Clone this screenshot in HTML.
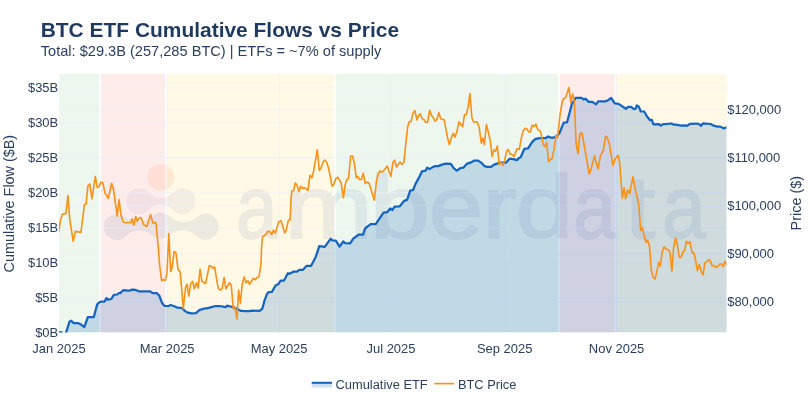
<!DOCTYPE html>
<html><head><meta charset="utf-8"><title>BTC ETF Cumulative Flows vs Price</title>
<style>
html,body{margin:0;padding:0;background:#fff;}
body{width:810px;height:405px;overflow:hidden;font-family:"Liberation Sans",sans-serif;}
svg{display:block;will-change:transform;transform:translateZ(0);}
text{font-family:"Liberation Sans",sans-serif;}
</style></head><body>
<svg width="810" height="405" viewBox="0 0 810 405">
<defs><clipPath id="pc"><rect x="59.0" y="74.0" width="667.7" height="258.5"/></clipPath></defs>
<rect width="810" height="405" fill="#ffffff"/>
<!-- regime bands -->
<g>
<rect x="59" y="74" width="40" height="258.5" fill="#edf7ee"/>
<rect x="100.9" y="74" width="64" height="258.5" fill="#feeceb"/>
<rect x="167" y="74" width="167.1" height="258.5" fill="#fff9e6"/>
<rect x="336" y="74" width="222" height="258.5" fill="#edf7ee"/>
<rect x="559.9" y="74" width="54.8" height="258.5" fill="#feeceb"/>
<rect x="616.4" y="74" width="110.3" height="258.5" fill="#fff9e6"/>
</g>
<!-- watermark -->
<g clip-path="url(#pc)">
<circle cx="160.7" cy="177.2" r="13.3" fill="#f4823c" opacity="0.12"/>
<path d="M126.00,201.20 A12.90,12.90 0 0 1 148.45,192.53 A16.67,16.67 0 0 0 173.15,192.53 A12.90,12.90 0 0 1 195.60,201.20 A12.90,12.90 0 0 1 173.15,209.87 A16.67,16.67 0 0 0 148.45,209.87 A12.90,12.90 0 0 1 126.00,201.20 Z" fill="#46609f" opacity="0.065"/>
<path d="M103.80,227.00 A12.90,12.90 0 0 1 125.24,217.33 A19.29,19.29 0 0 0 151.61,216.55 A12.90,12.90 0 0 1 169.58,216.34 A20.43,20.43 0 0 0 197.10,216.90 A12.90,12.90 0 0 1 218.50,226.60 A12.90,12.90 0 0 1 196.72,235.96 A20.43,20.43 0 0 0 169.20,235.40 A12.90,12.90 0 0 1 152.16,235.37 A19.29,19.29 0 0 0 125.79,236.15 A12.90,12.90 0 0 1 103.80,227.00 Z" fill="#46609f" opacity="0.10"/>
<g fill="#3c5696" stroke="#3c5696" opacity="0.09"><text transform="translate(236.18,237.8) scale(0.775,0.935)" font-size="95" stroke-width="2">a</text><text transform="translate(284.42,237.8) scale(1.116,0.935)" font-size="95" stroke-width="2">m</text><text transform="translate(369.80,237.8) scale(1.140,0.935)" font-size="95" stroke-width="2">b</text><text transform="translate(428.94,237.8) scale(1.021,0.935)" font-size="95" stroke-width="2">e</text><text transform="translate(482.45,237.8) scale(1.069,0.935)" font-size="95" stroke-width="2">r</text><text transform="translate(515.75,237.8) scale(1.084,0.935)" font-size="95" stroke-width="2">d</text><text transform="translate(573.18,237.8) scale(0.806,0.935)" font-size="95" stroke-width="2">a</text><text transform="translate(624.40,237.8) scale(1.156,0.935)" font-size="95" stroke-width="2">t</text><text transform="translate(661.91,237.8) scale(0.829,0.935)" font-size="95" stroke-width="2">a</text></g>
</g>
<!-- gridlines -->
<g stroke="#ebf0f8" stroke-width="1" stroke-opacity="0.7">
<line x1="167.2" x2="167.2" y1="74.0" y2="332.5"/><line x1="279.1" x2="279.1" y1="74.0" y2="332.5"/><line x1="391.0" x2="391.0" y1="74.0" y2="332.5"/><line x1="504.7" x2="504.7" y1="74.0" y2="332.5"/><line x1="616.6" x2="616.6" y1="74.0" y2="332.5"/>
<line x1="59.0" x2="726.7" y1="297.8" y2="297.8"/><line x1="59.0" x2="726.7" y1="262.8" y2="262.8"/><line x1="59.0" x2="726.7" y1="227.8" y2="227.8"/><line x1="59.0" x2="726.7" y1="192.8" y2="192.8"/><line x1="59.0" x2="726.7" y1="157.8" y2="157.8"/><line x1="59.0" x2="726.7" y1="122.8" y2="122.8"/><line x1="59.0" x2="726.7" y1="87.8" y2="87.8"/>
<line x1="59.0" x2="726.7" y1="109.6" y2="109.6"/><line x1="59.0" x2="726.7" y1="157.7" y2="157.7"/><line x1="59.0" x2="726.7" y1="205.8" y2="205.8"/><line x1="59.0" x2="726.7" y1="253.9" y2="253.9"/><line x1="59.0" x2="726.7" y1="302.0" y2="302.0"/>
</g>
<!-- traces -->
<g clip-path="url(#pc)">
<polygon points="59.0,332.0 61.7,332.3 62.5,336.0 65.5,336.0 66.1,332.6 69.5,321.5 71.3,320.7 73.5,323.0 78.0,323.0 80.9,324.4 84.3,327.1 87.9,317.0 93.8,317.0 97.2,304.4 99.4,302.2 101.2,301.5 104.6,301.5 106.4,298.1 108.0,299.6 111.3,299.0 113.8,294.8 117.2,294.5 119.0,293.0 120.5,293.0 122.9,290.4 124.6,290.1 126.9,290.7 129.8,290.7 132.0,289.6 135.7,289.9 138.7,291.3 149.8,291.3 152.8,293.1 156.9,293.2 159.2,295.5 162.2,303.3 164.4,305.8 168.6,306.0 170.5,305.0 173.7,306.0 177.4,307.7 181.9,308.0 184.8,310.9 187.8,312.7 191.5,313.4 195.9,313.1 199.6,309.9 201.9,309.4 204.1,308.4 207.0,308.4 212.2,306.8 215.9,306.0 219.6,306.0 225.6,307.2 227.0,305.7 230.7,306.5 235.2,308.0 238.1,309.4 241.1,310.9 244.8,311.2 249.3,311.2 252.2,310.6 259.6,310.9 262.3,308.7 264.5,300.6 267.0,293.9 268.5,292.2 271.9,292.0 275.6,285.4 278.5,283.9 280.7,280.6 284.0,280.6 287.9,273.2 289.6,273.8 293.3,271.7 297.0,271.7 299.3,269.8 303.0,269.8 306.7,265.8 311.1,265.8 315.6,257.2 319.3,246.1 324.7,246.9 330.6,238.8 332.5,240.4 335.8,240.6 339.6,246.6 343.2,241.5 345.3,243.1 350.1,243.4 353.5,238.3 354.8,237.5 358.6,234.7 363.1,234.6 365.0,228.5 368.7,225.6 370.6,224.1 375.7,224.1 379.8,218.1 383.5,212.7 387.2,212.2 390.2,208.5 392.4,210.0 394.6,206.7 399.8,206.3 403.8,201.1 407.2,199.6 410.2,190.7 413.1,190.0 415.4,184.1 419.1,177.4 422.0,171.3 425.7,170.6 427.2,167.6 429.4,169.1 433.1,166.9 435.4,166.1 438.3,166.1 442.0,164.6 445.7,163.6 450.9,163.9 453.9,168.3 456.9,170.6 460.6,168.0 463.5,167.6 467.2,163.6 471.7,162.1 473.9,160.6 478.3,160.6 481.4,162.8 484.4,166.1 487.4,166.9 491.1,166.9 494.1,164.6 497.0,163.6 499.3,162.7 505.9,162.7 509.6,158.7 513.3,159.1 517.0,160.2 518.8,158.0 520.7,157.2 524.4,148.8 528.1,148.3 531.9,142.4 534.8,139.4 537.8,138.4 542.2,138.0 545.9,138.0 548.1,136.5 550.4,137.5 554.1,137.5 557.0,135.7 559.3,133.5 563.7,122.6 567.0,122.4 569.0,115.0 571.9,103.9 575.7,97.9 581.7,97.8 583.5,99.5 585.4,98.7 588.8,101.8 592.4,101.8 596.0,104.4 598.4,101.3 605.2,101.4 608.1,100.2 611.1,98.0 614.8,103.4 618.5,103.9 625.9,108.8 628.1,106.9 631.1,106.9 633.9,109.1 635.6,108.7 636.8,105.4 638.8,106.7 640.7,111.3 644.2,111.5 647.0,116.5 650.0,120.2 651.8,119.9 653.5,124.3 658.9,124.2 660.7,125.7 662.6,124.3 671.5,123.5 673.7,124.7 675.9,124.7 681.1,125.7 684.8,125.4 687.0,125.8 690.0,123.9 697.4,123.6 699.6,124.6 701.1,125.8 702.9,123.4 710.7,124.0 713.7,125.7 717.4,126.6 720.4,126.6 722.6,127.9 724.1,128.3 726.6,127.3 726.7,332.5 59.0,332.5" fill="rgba(21,101,192,0.2)"/>
<polyline points="59.0,332.0 61.7,332.3 62.5,336.0 65.5,336.0 66.1,332.6 69.5,321.5 71.3,320.7 73.5,323.0 78.0,323.0 80.9,324.4 84.3,327.1 87.9,317.0 93.8,317.0 97.2,304.4 99.4,302.2 101.2,301.5 104.6,301.5 106.4,298.1 108.0,299.6 111.3,299.0 113.8,294.8 117.2,294.5 119.0,293.0 120.5,293.0 122.9,290.4 124.6,290.1 126.9,290.7 129.8,290.7 132.0,289.6 135.7,289.9 138.7,291.3 149.8,291.3 152.8,293.1 156.9,293.2 159.2,295.5 162.2,303.3 164.4,305.8 168.6,306.0 170.5,305.0 173.7,306.0 177.4,307.7 181.9,308.0 184.8,310.9 187.8,312.7 191.5,313.4 195.9,313.1 199.6,309.9 201.9,309.4 204.1,308.4 207.0,308.4 212.2,306.8 215.9,306.0 219.6,306.0 225.6,307.2 227.0,305.7 230.7,306.5 235.2,308.0 238.1,309.4 241.1,310.9 244.8,311.2 249.3,311.2 252.2,310.6 259.6,310.9 262.3,308.7 264.5,300.6 267.0,293.9 268.5,292.2 271.9,292.0 275.6,285.4 278.5,283.9 280.7,280.6 284.0,280.6 287.9,273.2 289.6,273.8 293.3,271.7 297.0,271.7 299.3,269.8 303.0,269.8 306.7,265.8 311.1,265.8 315.6,257.2 319.3,246.1 324.7,246.9 330.6,238.8 332.5,240.4 335.8,240.6 339.6,246.6 343.2,241.5 345.3,243.1 350.1,243.4 353.5,238.3 354.8,237.5 358.6,234.7 363.1,234.6 365.0,228.5 368.7,225.6 370.6,224.1 375.7,224.1 379.8,218.1 383.5,212.7 387.2,212.2 390.2,208.5 392.4,210.0 394.6,206.7 399.8,206.3 403.8,201.1 407.2,199.6 410.2,190.7 413.1,190.0 415.4,184.1 419.1,177.4 422.0,171.3 425.7,170.6 427.2,167.6 429.4,169.1 433.1,166.9 435.4,166.1 438.3,166.1 442.0,164.6 445.7,163.6 450.9,163.9 453.9,168.3 456.9,170.6 460.6,168.0 463.5,167.6 467.2,163.6 471.7,162.1 473.9,160.6 478.3,160.6 481.4,162.8 484.4,166.1 487.4,166.9 491.1,166.9 494.1,164.6 497.0,163.6 499.3,162.7 505.9,162.7 509.6,158.7 513.3,159.1 517.0,160.2 518.8,158.0 520.7,157.2 524.4,148.8 528.1,148.3 531.9,142.4 534.8,139.4 537.8,138.4 542.2,138.0 545.9,138.0 548.1,136.5 550.4,137.5 554.1,137.5 557.0,135.7 559.3,133.5 563.7,122.6 567.0,122.4 569.0,115.0 571.9,103.9 575.7,97.9 581.7,97.8 583.5,99.5 585.4,98.7 588.8,101.8 592.4,101.8 596.0,104.4 598.4,101.3 605.2,101.4 608.1,100.2 611.1,98.0 614.8,103.4 618.5,103.9 625.9,108.8 628.1,106.9 631.1,106.9 633.9,109.1 635.6,108.7 636.8,105.4 638.8,106.7 640.7,111.3 644.2,111.5 647.0,116.5 650.0,120.2 651.8,119.9 653.5,124.3 658.9,124.2 660.7,125.7 662.6,124.3 671.5,123.5 673.7,124.7 675.9,124.7 681.1,125.7 684.8,125.4 687.0,125.8 690.0,123.9 697.4,123.6 699.6,124.6 701.1,125.8 702.9,123.4 710.7,124.0 713.7,125.7 717.4,126.6 720.4,126.6 722.6,127.9 724.1,128.3 726.6,127.3" fill="none" stroke="#1565c0" stroke-width="2.25" stroke-linejoin="round"/>
<polyline points="58.7,231.7 60.6,219.8 62.4,214.4 65.9,213.4 68.0,195.6 69.8,219.6 73.2,241.3 75.4,231.4 80.9,232.4 82.4,221.0 84.4,204.5 86.1,204.1 87.9,185.9 89.8,184.0 92.0,198.8 95.3,176.6 97.2,187.4 99.1,186.4 100.9,182.2 102.7,182.5 105.1,193.3 106.6,195.3 108.3,198.5 111.6,183.4 113.5,189.6 117.2,216.2 119.0,199.7 120.9,214.7 122.9,221.3 124.6,222.5 130.6,222.8 132.0,219.1 133.8,225.0 135.7,216.6 137.2,221.3 138.7,218.3 140.9,217.6 143.9,225.0 146.9,226.5 150.6,214.6 152.8,223.0 154.6,222.4 156.0,223.3 158.1,245.0 159.6,265.0 161.6,280.6 163.3,279.5 165.3,280.6 167.0,272.4 168.8,233.7 170.7,271.5 172.2,266.9 174.1,251.3 175.9,252.8 178.1,269.6 180.1,271.7 181.9,291.7 183.3,308.7 185.6,287.2 187.0,284.3 188.8,296.1 190.7,283.5 192.7,281.3 194.4,288.7 196.4,282.8 198.1,288.0 200.1,269.2 201.9,281.3 205.6,283.5 209.3,265.7 211.0,266.1 213.0,268.3 214.7,267.0 216.7,279.8 218.4,288.7 220.4,290.2 222.1,288.7 224.1,277.6 225.9,288.7 229.6,282.8 231.2,285.0 233.3,308.7 234.7,306.5 237.0,319.1 238.6,290.2 240.4,303.5 242.1,285.0 244.1,276.9 246.0,282.8 247.8,280.6 249.6,284.3 253.3,278.3 255.2,279.8 257.0,277.6 258.9,276.9 260.8,265.2 261.7,245.0 262.5,237.0 266.2,234.0 268.1,231.2 269.9,231.8 271.6,234.6 273.5,230.2 275.4,233.1 278.7,222.0 280.9,220.6 283.1,227.2 284.6,232.7 286.1,230.9 288.3,220.6 290.1,219.8 291.0,200.0 291.8,191.0 293.5,190.8 295.3,183.0 297.0,185.2 299.0,191.6 300.7,186.2 302.7,188.6 304.4,187.7 307.9,190.4 309.9,175.3 311.9,177.8 313.6,171.1 317.3,149.6 319.3,170.4 321.0,168.1 323.0,162.2 324.7,160.0 326.7,162.2 328.4,167.4 332.1,186.2 333.8,184.4 335.9,178.5 337.8,177.3 341.2,183.0 343.4,197.8 345.2,184.4 347.0,179.3 348.6,178.2 350.7,156.0 352.6,156.0 354.4,163.7 356.3,177.8 357.8,176.3 359.6,179.7 361.5,179.3 363.3,173.3 365.2,183.5 367.3,182.0 369.2,183.5 374.3,200.2 376.5,180.5 378.0,175.0 379.8,170.8 381.6,172.2 383.5,171.0 387.2,166.1 390.9,176.5 392.9,162.4 394.6,160.2 396.6,166.9 400.1,162.1 402.0,164.6 403.8,162.4 405.7,145.0 407.6,127.2 409.3,121.6 411.1,121.4 413.0,113.3 414.8,110.4 417.0,120.0 418.5,115.6 420.3,113.8 422.2,118.8 424.0,119.8 425.9,122.6 427.6,122.0 429.6,110.4 431.6,115.6 433.3,117.8 435.1,121.1 437.0,119.3 438.8,112.6 440.7,118.8 444.2,119.9 445.9,128.9 447.7,138.5 449.4,144.6 451.8,136.5 453.4,133.4 455.1,137.1 457.0,131.1 459.0,121.9 460.7,124.4 462.7,126.7 464.5,114.5 466.2,114.8 468.1,107.4 469.9,93.6 471.9,117.8 473.8,122.2 477.0,121.8 479.2,127.5 481.3,143.1 482.8,138.0 484.4,144.6 486.4,124.6 488.4,132.4 490.2,140.2 492.1,156.5 493.8,149.8 495.6,151.3 497.3,146.1 499.3,164.6 501.0,162.4 503.0,165.4 504.4,160.9 506.7,151.3 508.1,149.4 510.4,154.3 511.9,154.3 514.1,156.5 517.0,148.8 519.3,149.4 521.5,137.2 523.3,130.6 525.2,128.3 527.0,129.1 528.9,132.0 530.4,132.0 532.1,125.1 534.1,126.6 535.9,124.2 537.8,129.8 539.3,130.1 541.0,132.8 543.0,143.9 544.7,146.9 546.7,142.4 548.6,161.7 550.4,159.4 552.1,158.7 554.1,149.1 555.9,135.7 557.5,138.0 560.0,115.0 562.2,101.7 563.7,98.4 565.5,98.0 568.9,87.6 570.8,102.4 572.6,94.0 574.4,101.7 576.1,143.5 578.0,153.8 579.8,134.0 581.9,132.7 585.5,152.5 589.2,174.0 591.1,169.1 594.5,155.7 596.3,163.1 598.1,168.8 600.4,155.8 603.3,150.4 605.6,136.3 607.0,137.0 609.3,143.7 613.0,165.6 615.2,158.9 618.1,155.3 619.6,161.9 622.3,198.1 624.1,187.8 625.6,198.9 627.8,190.0 629.7,193.7 633.0,176.7 635.2,189.3 637.4,198.1 638.8,205.5 640.7,230.6 642.2,227.6 645.9,242.4 647.6,240.2 649.5,246.0 651.4,270.6 653.3,277.2 655.1,279.1 658.8,262.4 660.3,266.1 662.2,252.0 664.1,246.9 666.2,249.1 668.1,249.8 669.9,252.0 671.9,271.3 673.6,247.6 675.6,237.8 677.2,244.2 679.3,257.2 681.0,257.5 683.0,252.0 684.7,250.6 686.4,241.3 688.1,243.4 689.9,241.8 692.1,252.6 693.8,252.6 695.6,260.2 697.3,270.6 699.3,264.6 701.2,271.3 703.0,275.0 704.9,262.9 706.7,261.7 708.6,259.9 710.1,260.2 712.1,266.1 713.8,265.4 715.9,267.3 717.8,266.4 719.6,264.3 721.5,263.9 723.3,266.9 724.9,261.4 726.7,264.6" fill="none" stroke="#f7931a" stroke-width="1.65" stroke-linejoin="round"/>
</g>
<!-- axis ticks -->
<g font-size="12.96" fill="#2a3f5f">
<g text-anchor="end">
<text x="58.2" y="337.2">$0B</text><text x="58.2" y="302.2">$5B</text><text x="58.2" y="267.2">$10B</text><text x="58.2" y="232.2">$15B</text><text x="58.2" y="197.2">$20B</text><text x="58.2" y="162.2">$25B</text><text x="58.2" y="127.2">$30B</text><text x="58.2" y="92.2">$35B</text>
</g>
<g text-anchor="start">
<text x="727.2" y="113.7">$120,000</text><text x="727.2" y="161.8">$110,000</text><text x="727.2" y="209.9">$100,000</text><text x="727.2" y="258.0">$90,000</text><text x="727.2" y="306.1">$80,000</text>
</g>
<g text-anchor="middle">
<text x="59.0" y="352.5">Jan 2025</text><text x="167.2" y="352.5">Mar 2025</text><text x="279.1" y="352.5">May 2025</text><text x="391.0" y="352.5">Jul 2025</text><text x="504.7" y="352.5">Sep 2025</text><text x="616.6" y="352.5">Nov 2025</text>
</g>
</g>
<!-- axis titles -->
<text transform="translate(14.1,203.6) rotate(-90)" text-anchor="middle" font-size="14.4" fill="#2a3f5f">Cumulative Flow ($B)</text>
<text transform="translate(801.1,203.2) rotate(-90)" text-anchor="middle" font-size="14.4" fill="#2a3f5f">Price ($)</text>
<!-- title -->
<text x="40.7" y="37.3" font-size="20.95" font-weight="bold" fill="#1f3a5f">BTC ETF Cumulative Flows vs Price</text>
<text x="40.75" y="55.7" font-size="14.6" fill="#2a3f5f">Total: $29.3B (257,285 BTC) | ETFs = ~7% of supply</text>
<!-- legend -->
<g font-size="12.85" fill="#2a3f5f">
<rect x="311.7" y="382.8" width="20.3" height="4.7" fill="rgba(21,101,192,0.2)"/>
<line x1="311.7" x2="332" y1="382.8" y2="382.8" stroke="#1565c0" stroke-width="2.05"/>
<text x="335.6" y="388.8">Cumulative ETF</text>
<line x1="434.3" x2="454.2" y1="383.6" y2="383.6" stroke="#f7931a" stroke-width="1.65"/>
<text x="457.9" y="388.8">BTC Price</text>
</g>
</svg>
</body></html>
